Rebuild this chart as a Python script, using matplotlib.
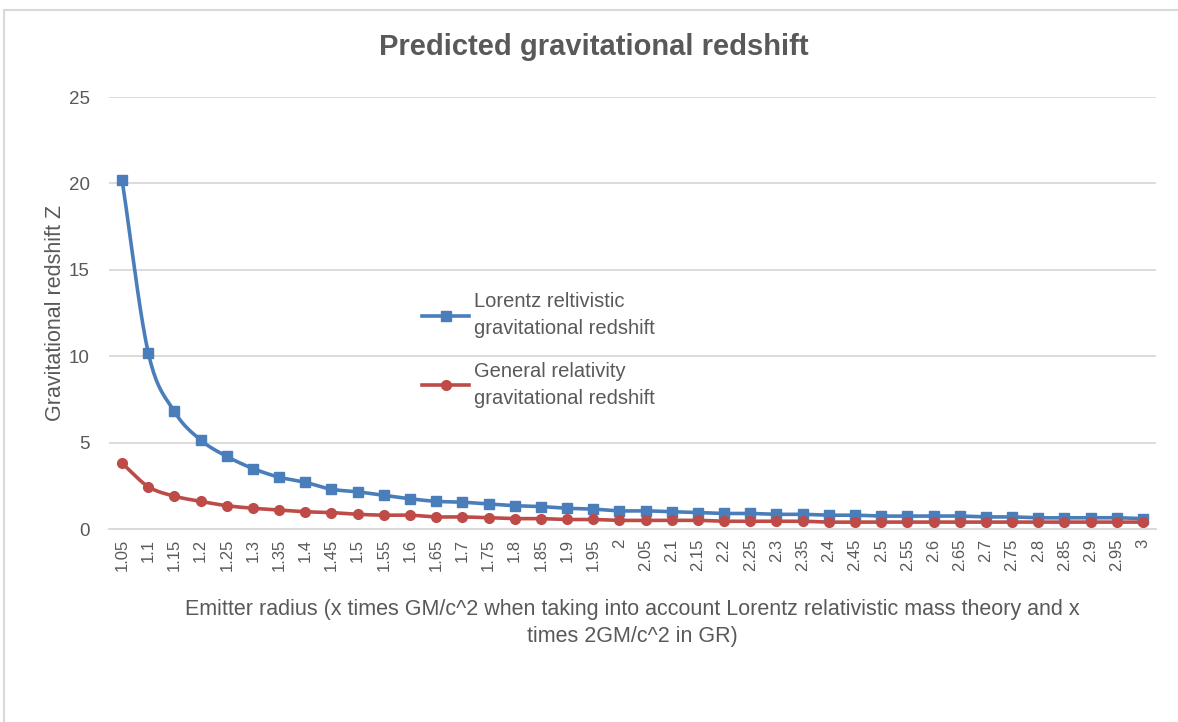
import numpy as np
import matplotlib.pyplot as plt
from matplotlib.patches import Rectangle

# Données
rayons = ["1.05", "1.1", "1.15", "1.2", "1.25", "1.3", "1.35", "1.4", "1.45", "1.5",
          "1.55", "1.6", "1.65", "1.7", "1.75", "1.8", "1.85", "1.9", "1.95", "2",
          "2.05", "2.1", "2.15", "2.2", "2.25", "2.3", "2.35", "2.4", "2.45", "2.5",
          "2.55", "2.6", "2.65", "2.7", "2.75", "2.8", "2.85", "2.9", "2.95", "3"]
lorentz = [20.2, 10.2, 6.8, 5.15, 4.2, 3.5, 3.0, 2.7, 2.3, 2.15,
           1.95, 1.75, 1.6, 1.55, 1.45, 1.35, 1.3, 1.2, 1.15, 1.05,
           1.05, 1.0, 0.95, 0.9, 0.9, 0.85, 0.85, 0.8, 0.8, 0.75,
           0.75, 0.75, 0.75, 0.7, 0.7, 0.65, 0.65, 0.65, 0.65, 0.6]
relativite = [3.8, 2.45, 1.9, 1.6, 1.35, 1.2, 1.1, 1.0, 0.95, 0.85,
              0.8, 0.8, 0.7, 0.7, 0.65, 0.6, 0.6, 0.55, 0.55, 0.5,
              0.5, 0.5, 0.5, 0.45, 0.45, 0.45, 0.45, 0.4, 0.4, 0.4,
              0.4, 0.4, 0.4, 0.4, 0.4, 0.4, 0.4, 0.4, 0.4, 0.4]

gris = "#595959"
bleu = "#4A7EBB"
rouge = "#BE4B48"
police = ["Liberation Sans", "DejaVu Sans"]
plt.rcParams["font.family"] = police


def lissage(y, n=20):
    # courbe lissée (Catmull-Rom) comme dans Excel
    y = np.asarray(y, dtype=float)
    x = np.arange(len(y), dtype=float)
    px = np.concatenate([[2 * x[0] - x[1]], x, [2 * x[-1] - x[-2]]])
    py = np.concatenate([[2 * y[0] - y[1]], y, [2 * y[-1] - y[-2]]])
    xs, ys = [], []
    t = np.linspace(0, 1, n, endpoint=False)
    for i in range(1, len(px) - 2):
        for p, out in ((px, xs), (py, ys)):
            p0, p1, p2, p3 = p[i - 1], p[i], p[i + 1], p[i + 2]
            out.extend(0.5 * (2 * p1 + (-p0 + p2) * t
                              + (2 * p0 - 5 * p1 + 4 * p2 - p3) * t ** 2
                              + (-p0 + 3 * p1 - 3 * p2 + p3) * t ** 3))
    xs.append(x[-1])
    ys.append(y[-1])
    return np.array(xs), np.array(ys)


fig = plt.figure(figsize=(11.78, 7.22), dpi=100)
fig.patches.append(Rectangle((4 / 1178, -0.1), 1.2, (722 - 10) / 722 + 0.1,
                             transform=fig.transFigure, fill=False,
                             edgecolor="#D9D9D9", linewidth=1.5))
ax = fig.add_axes([109 / 1178, 1 - 529 / 722, 1047 / 1178, 432 / 722])

pos = np.arange(len(rayons))
xl, yl = lissage(lorentz)
xr, yr = lissage(relativite)
ax.plot(xl, yl, color=bleu, linewidth=2.6, zorder=3)
ax.plot(pos, lorentz, linestyle="none", marker="s", markersize=7.5,
        color=bleu, zorder=4)
ax.plot(xr, yr, color=rouge, linewidth=2.6, zorder=3)
ax.plot(pos, relativite, linestyle="none", marker="o", markersize=7,
        color=rouge, zorder=4)

# entrées de légende
ax.plot([], [], color=bleu, linewidth=2.6, marker="s", markersize=7,
        label="Lorentz reltivistic\ngravitational redshift")
ax.plot([], [], color=rouge, linewidth=2.6, marker="o", markersize=7,
        label="General relativity\ngravitational redshift")

ax.set_xlim(-0.5, len(rayons) - 0.5)
ax.set_ylim(0, 25)
ax.set_yticks([0, 5, 10, 15, 20, 25])
ax.set_xticks(pos)
ax.set_xticklabels(rayons, rotation=90, fontsize=12, color=gris)
ax.tick_params(axis="y", labelsize=13.5, colors=gris, length=0, pad=14)
ax.tick_params(axis="x", length=0, pad=7)
ax.grid(axis="y", color="#D9D9D9", linewidth=1.3)
ax.set_axisbelow(True)
for cote in ["top", "right", "left"]:
    ax.spines[cote].set_visible(False)
ax.spines["bottom"].set_color("#D9D9D9")
ax.spines["bottom"].set_linewidth(1.3)

ax.set_ylabel("Gravitational redshift Z", fontsize=15.5, color=gris, labelpad=2)
ax.set_xlabel("Emitter radius (x times GM/c^2 when taking into account Lorentz "
              "relativistic mass theory and x\ntimes 2GM/c^2 in GR)",
              fontsize=15.5, color=gris, labelpad=20, linespacing=1.35)
fig.text(594 / 1178, 1 - 47 / 722, "Predicted gravitational redshift",
         ha="center", va="center", fontsize=21, fontweight="bold", color=gris)

leg = ax.legend(loc="upper left", bbox_to_anchor=(0.282, 0.59), frameon=False,
                fontsize=14.5, labelcolor=gris, handlelength=2.3,
                handletextpad=0.25, labelspacing=1.15)
for texte in leg.get_texts():
    texte.set_linespacing(1.55)

fig.savefig("out.png", dpi=100, facecolor="white")
